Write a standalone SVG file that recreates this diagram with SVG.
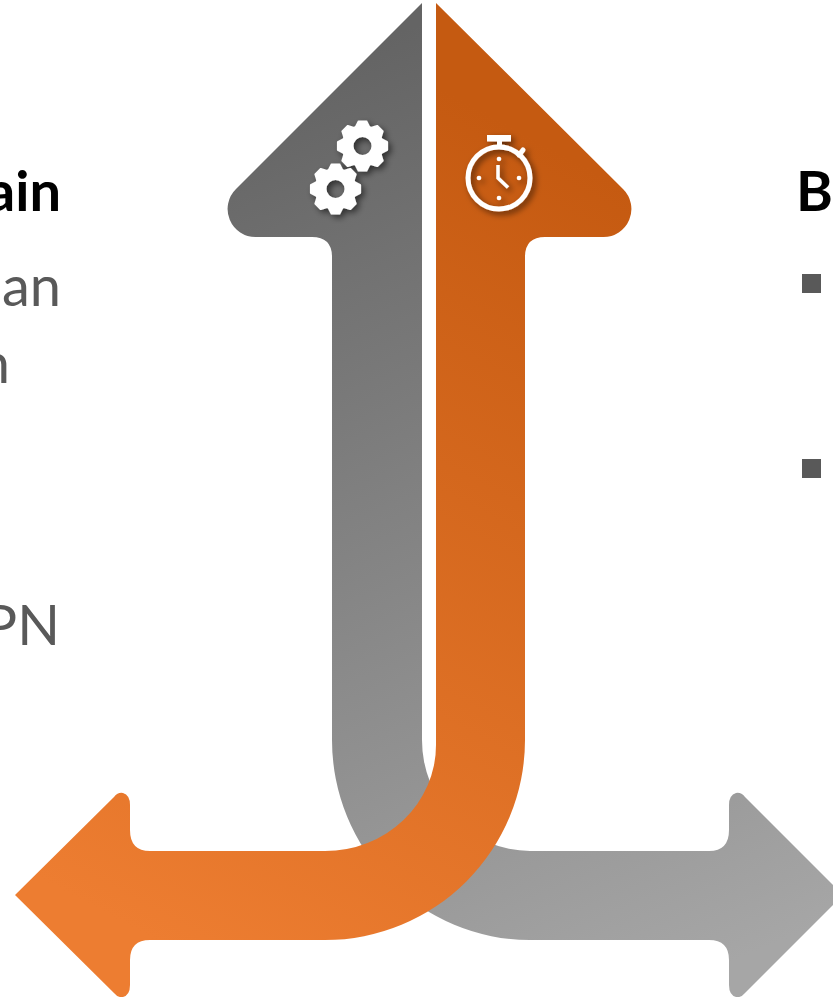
<svg xmlns="http://www.w3.org/2000/svg" width="833" height="997" viewBox="0 0 833 997">
<style>
.h{font-family:Lato,"Open Sans",sans-serif;font-size:56px;font-weight:700;fill:#000}
.b{font-family:Lato,"Open Sans",sans-serif;font-size:56px;fill:#595959}
.w{fill:none;stroke:#fff}
.d{fill:#fff}
</style>
<defs>
<linearGradient id="gg" gradientUnits="userSpaceOnUse" x1="380" y1="40" x2="760" y2="950"><stop offset="0" stop-color="#646464"/><stop offset="1" stop-color="#a6a6a6"/></linearGradient>
<linearGradient id="og" gradientUnits="userSpaceOnUse" x1="500" y1="120" x2="80" y2="900"><stop offset="0" stop-color="#c55a11"/><stop offset="1" stop-color="#ed7d31"/></linearGradient>
<filter id="s" x="-40%" y="-40%" width="190%" height="190%"><feDropShadow dx="3" dy="3" stdDeviation="3" flood-color="#000" flood-opacity=".55"/></filter>
<path id="t" class="d" stroke="#fff" stroke-width="1.500" stroke-linejoin="round" d="M-7-19L-4-24.800H4L7-19Z"/>
<g id="gear">
<circle r="15" class="w" stroke-width="12"/>
<use href="#t"/><use href="#t" transform="rotate(45)"/><use href="#t" transform="rotate(90)"/><use href="#t" transform="rotate(135)"/><use href="#t" transform="rotate(180)"/><use href="#t" transform="rotate(225)"/><use href="#t" transform="rotate(270)"/><use href="#t" transform="rotate(315)"/>
</g>
</defs>
<g id="left-text">
<text class="h" x="61" y="211" text-anchor="end">ain</text>
<text class="b" x="61" y="306" text-anchor="end">an</text>
<text class="b" x="10" y="383" text-anchor="end">n</text>
<text class="b" x="60" y="645" text-anchor="end">PN</text>
</g>
<g id="right-text">
<text class="h" x="796" y="211">B</text>
<rect x="802" y="274" width="19" height="19" fill="#595959"/>
<rect x="802" y="459" width="19" height="19" fill="#595959"/>
</g>
<g id="arrow-gray">
<path fill="url(#gg)" d="M422 3V740A108 111 0 0 0 530 851H709Q729 851 729 830V805Q729 795 736 793Q741 792 745 797L843 895L745 993Q741 998 736 997Q729 995 729 985V960Q729 940 709 940H530A198 200 0 0 1 332 740V257Q332 237 312 237H256A28 28 0 0 1 236 189Z"/>
<g id="gears" filter="url(#s)">
<use href="#gear" transform="translate(362.5 146)"/>
<use href="#gear" transform="translate(335.5 189)"/>
</g>
</g>
<g id="arrow-orange">
<path fill="url(#og)" d="M436 3V745A111 106 0 0 1 325 851H150Q130 851 130 830V805Q130 795 123 793Q118 792 114 797L15 895L114 993Q118 998 123 997Q130 995 130 985V960Q130 940 150 940H325A200 200 0 0 0 525 740V257Q525 237 545 237H603A28 28 0 0 0 623 189Z"/>
<g id="stopwatch" filter="url(#s)">
<circle cx="499" cy="178" r="31" class="w" stroke-width="5"/>
<rect x="487" y="135" width="24" height="6.500" class="d"/>
<rect x="497" y="140" width="5" height="9" class="d"/>
<path class="w" d="M519 155L523 150" stroke-width="5" stroke-linecap="round"/>
<circle cx="499" cy="159" r="2.300" class="d"/><circle cx="479" cy="178" r="2.300" class="d"/><circle cx="519" cy="178" r="2.300" class="d"/><circle cx="499" cy="198" r="2.300" class="d"/>
<path class="w" d="M498 165V178L508 187.500" stroke-width="3.500"/>
</g>
</g>
</svg>
